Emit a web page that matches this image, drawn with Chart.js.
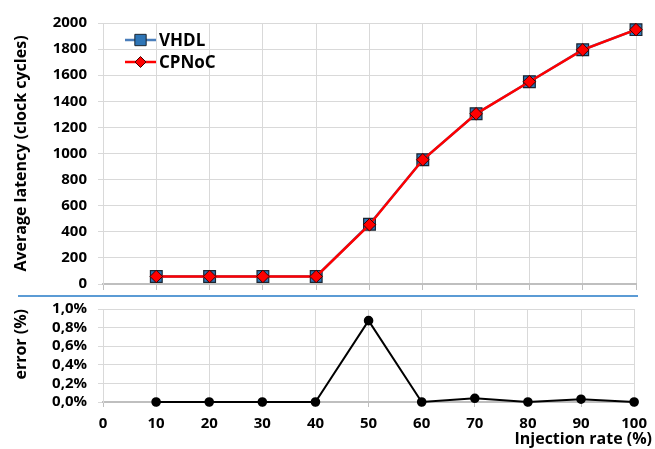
<!DOCTYPE html>
<html>
<head>
<meta charset="utf-8">
<script src="https://cdn.jsdelivr.net/npm/chart.js@4.4.1/dist/chart.umd.min.js"></script>
<style>
  html, body { margin: 0; padding: 0; background: #fff; }
  #wrap { position: relative; width: 655px; height: 449px; overflow: hidden; }
  #top { position: absolute; left: 0; top: 0; }
  #bottom { position: absolute; left: 0; top: 297px; }
  #sep { position: absolute; left: 18px; top: 295px; width: 620px; height: 2px; background: #5b9bd5; }
</style>
</head>
<body>
<div id="wrap">
  <canvas id="top" width="655" height="295"></canvas>
  <div id="sep"></div>
  <canvas id="bottom" width="655" height="152"></canvas>
</div>
<script>
const rates = [10, 20, 30, 40, 50, 60, 70, 80, 90, 100];
const vhdl = [58, 58, 58, 58, 458, 952, 1305, 1550, 1795, 1949];
const cpnoc = [58, 58, 58, 58, 454, 952, 1304, 1550, 1794, 1949];
const errorPct = [0, 0, 0, 0, 0.875, 0, 0.04, 0, 0.03, 0];

const latencyTicks = [0, 200, 400, 600, 800, 1000, 1200, 1400, 1600, 1800, 2000];
const errorTicks = [0, 0.2, 0.4, 0.6, 0.8, 1.0];

const FONT = "Open Sans";
const tickFont = { family: FONT, size: 15, weight: "bold" };
const titleFont = { family: FONT, size: 16, weight: "bold" };
const PLOT_LEFT = 103;

const pts = arr => rates.map((r, i) => ({ x: r, y: arr[i] }));

// fixed y-axis width so both plots line up, no extra label padding
function fixY(s) {
    s.width = PLOT_LEFT;
    s.paddingTop = 0;
    s.paddingBottom = 0;
}

// legend drawn inside the plot area, line + marker + label
const legendInside = {
    id: "legendInside",
    afterDraw(chart) {
        const ctx = chart.ctx;
        const x0 = chart.chartArea.left + 22;
        chart.data.datasets.forEach((ds, i) => {
            const y = 40 + i * 22;
            ctx.save();
            ctx.strokeStyle = ds.borderColor;
            ctx.lineWidth = 2.5;
            ctx.beginPath();
            ctx.moveTo(x0, y);
            ctx.lineTo(x0 + 31, y);
            ctx.stroke();
            ctx.fillStyle = ds.pointBackgroundColor;
            ctx.strokeStyle = ds.pointBorderColor;
            ctx.lineWidth = 1;
            Chart.helpers.drawPoint(ctx, { pointStyle: ds.pointStyle, radius: ds.legendRadius, borderWidth: 1, rotation: 0 }, x0 + 15.5, y);
            ctx.fillStyle = "#000";
            ctx.font = "bold 17px " + FONT;
            ctx.textBaseline = "middle";
            ctx.fillText(ds.label, x0 + 34, y + 1);
            ctx.restore();
        });
    }
};

new Chart(document.getElementById("top"), {
    type: "line",
    data: {
        datasets: [
            {
                label: "VHDL",
                data: pts(vhdl),
                order: 1,
                clip: false,
                borderColor: "#4a7ebb",
                borderWidth: 2.5,
                pointStyle: "rect",
                pointRadius: 8.3,
                legendRadius: 8,
                pointBackgroundColor: "#2e75b6",
                pointBorderColor: "#1a2530",
                pointBorderWidth: 1.2
            },
            {
                label: "CPNoC",
                data: pts(cpnoc),
                order: 0,
                clip: false,
                borderColor: "#ff0000",
                borderWidth: 2.5,
                pointStyle: "rectRot",
                pointRadius: 6.3,
                legendRadius: 5.5,
                pointBackgroundColor: "#ff0000",
                pointBorderColor: "#400000",
                pointBorderWidth: 1
            }
        ]
    },
    options: {
        animation: false,
        responsive: false,
        layout: { padding: { top: 23, right: 19, left: 0, bottom: 0 } },
        plugins: { legend: { display: false }, tooltip: { enabled: false } },
        scales: {
            x: {
                type: "linear",
                min: 0, max: 100,
                ticks: { display: false, stepSize: 10 },
                grid: { color: "#d9d9d9", tickColor: "#bfbfbf", tickLength: 6 },
                border: { color: "#bfbfbf", width: 2 },
                afterFit(s) { s.height = 11; }
            },
            y: {
                min: 0, max: 2000,
                afterBuildTicks(s) { s.ticks = latencyTicks.map(v => ({ value: v })); },
                ticks: { font: tickFont, color: "#000", padding: 11, autoSkip: false, callback: v => String(v) },
                grid: { color: "#d9d9d9", tickLength: 5 },
                border: { color: "#d9d9d9" },
                title: { display: true, text: "Average latency (clock cycles)", font: titleFont, color: "#000", padding: { top: 12, bottom: 0 } },
                afterFit: fixY
            }
        }
    },
    plugins: [legendInside]
});

const xTitle = {
    id: "xTitle",
    afterDraw(chart) {
        const ctx = chart.ctx;
        ctx.save();
        ctx.fillStyle = "#000";
        ctx.font = "bold 16px " + FONT;
        ctx.textAlign = "right";
        ctx.textBaseline = "alphabetic";
        ctx.fillText("Injection rate (%)", 652, 147);
        ctx.restore();
    }
};

new Chart(document.getElementById("bottom"), {
    type: "line",
    data: {
        datasets: [{
            label: "error",
            data: pts(errorPct),
            clip: false,
            borderColor: "#000",
            borderWidth: 2,
            pointStyle: "circle",
            pointRadius: 3.8,
            pointBackgroundColor: "#000",
            pointBorderColor: "#000"
        }]
    },
    options: {
        animation: false,
        responsive: false,
        layout: { padding: { top: 12, right: 19, left: 0, bottom: 0 } },
        plugins: { legend: { display: false }, tooltip: { enabled: false } },
        scales: {
            x: {
                type: "linear",
                min: 0, max: 100,
                ticks: { stepSize: 10, font: tickFont, color: "#000", padding: 8, maxRotation: 0 },
                grid: { color: "#d9d9d9", tickColor: "#bfbfbf", tickLength: 5 },
                border: { color: "#bfbfbf", width: 2 },
                afterFit(s) { s.height = 47; }
            },
            y: {
                min: 0, max: 1,
                afterBuildTicks(s) { s.ticks = errorTicks.map(v => ({ value: v })); },
                ticks: {
                    font: tickFont, color: "#000", padding: 11, autoSkip: false,
                    callback: v => v.toFixed(1).replace(".", ",") + "%"
                },
                grid: { color: "#d9d9d9", tickLength: 5 },
                border: { color: "#d9d9d9" },
                title: { display: true, text: "error (%)", align: "end", font: titleFont, color: "#000", padding: { top: 12, bottom: 0 } },
                afterFit: fixY
            }
        }
    },
    plugins: [xTitle]
});
</script>
</body>
</html>
